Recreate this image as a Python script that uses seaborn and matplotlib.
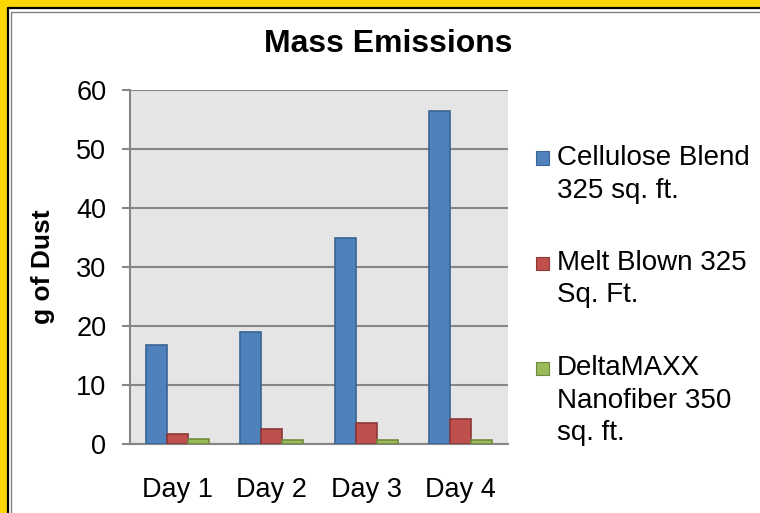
import numpy as np
import pandas as pd
import matplotlib
matplotlib.use("Agg")
import matplotlib.pyplot as plt
from matplotlib.patches import Rectangle
from matplotlib.lines import Line2D
import seaborn as sns

# data
days = ["Day 1", "Day 2", "Day 3", "Day 4"]
series = ["Cellulose Blend 325 sq. ft.", "Melt Blown 325 Sq. Ft.", "DeltaMAXX Nanofiber 350 sq. ft."]
cellulose = [16.8, 18.9, 34.9, 56.4]
melt_blown = [1.7, 2.5, 3.5, 4.2]
deltamaxx = [0.8, 0.7, 0.7, 0.7]
legend_lines = [["Cellulose Blend", "325 sq. ft."],
                ["Melt Blown 325", "Sq. Ft."],
                ["DeltaMAXX", "Nanofiber 350", "sq. ft."]]

colors = ["#4F81BD", "#C0504D", "#9BBB59"]
edges = ["#3A6494", "#8C3836", "#71893F"]

df = pd.DataFrame({
    "day": days * 3,
    "value": cellulose + melt_blown + deltamaxx,
    "series": [s for s in series for _ in days],
})

sns.set_theme(style="white")
plt.rcParams["font.family"] = ["Liberation Sans", "DejaVu Sans"]

W, H = 760, 513
fig = plt.figure(figsize=(W / 100, H / 100), dpi=100)
fig.patch.set_facecolor("white")

ax = fig.add_axes([130 / W, 1 - 444 / H, (508 - 130) / W, (444 - 90) / H])
ax.set_facecolor("#E5E5E5")

sns.barplot(data=df, x="day", y="value", hue="series", palette=colors,
            width=0.667, ax=ax, legend=False, saturation=1, errorbar=None)

for cont, ec in zip(ax.containers, edges):
    for bar in cont:
        bar.set_edgecolor(ec)
        bar.set_linewidth(1.2)
        bar.set_zorder(3)

ax.set_ylim(0, 60)
ax.set_yticks(np.arange(0, 61, 10))
ax.yaxis.grid(True, color="#868686", linewidth=1.5, zorder=0)
ax.set_axisbelow(True)
for side in ["top", "right"]:
    ax.spines[side].set_visible(False)
for side in ["left", "bottom"]:
    ax.spines[side].set_color("#868686")
    ax.spines[side].set_linewidth(1.5)
ax.tick_params(axis="y", left=True, length=6, width=1.5, color="#868686",
               labelsize=19.5, pad=11, labelcolor="black")
ax.tick_params(axis="x", bottom=False, length=0, labelsize=19.5, pad=24, labelcolor="black")
ax.set_xlabel("")
ax.set_ylabel("g of Dust", fontsize=19, fontweight="bold", labelpad=15, color="black")

fig.text(388 / W, 1 - 44 / H, "Mass Emissions", fontsize=23, fontweight="bold",
         ha="center", va="center", color="black")

# legend, built by hand so the swatch lines up with the first text line
entry_top = 158
for i, lines in enumerate(legend_lines):
    y0 = entry_top + i * 105
    fig.add_artist(Rectangle((536 / W, 1 - (y0 + 6.5) / H), 13 / W, 13 / H,
                             transform=fig.transFigure, facecolor=colors[i],
                             edgecolor=edges[i], linewidth=0.8))
    for j, line in enumerate(lines):
        fig.text(557 / W, 1 - (y0 + j * 32.5) / H, line, fontsize=20,
                 ha="left", va="center", color="black")

# slide frame: yellow band, black rule, thin gray rule (top and left only)
fig.add_artist(Rectangle((0, 1 - 7 / H), 1, 7 / H, transform=fig.transFigure,
                         facecolor="#FFD700", edgecolor="none"))
fig.add_artist(Rectangle((0, 0), 7 / W, 1, transform=fig.transFigure,
                         facecolor="#FFD700", edgecolor="none"))
fig.add_artist(Line2D([8 / W, 1], [1 - 8 / H, 1 - 8 / H], transform=fig.transFigure,
                      color="black", linewidth=1.6))
fig.add_artist(Line2D([8 / W, 8 / W], [0, 1 - 8 / H], transform=fig.transFigure,
                      color="black", linewidth=1.6))
fig.add_artist(Line2D([11 / W, 1], [1 - 12 / H, 1 - 12 / H], transform=fig.transFigure,
                      color="#808080", linewidth=1.0))
fig.add_artist(Line2D([11 / W, 11 / W], [0, 1 - 12 / H], transform=fig.transFigure,
                      color="#808080", linewidth=1.0))

fig.savefig("out.png", dpi=100)
